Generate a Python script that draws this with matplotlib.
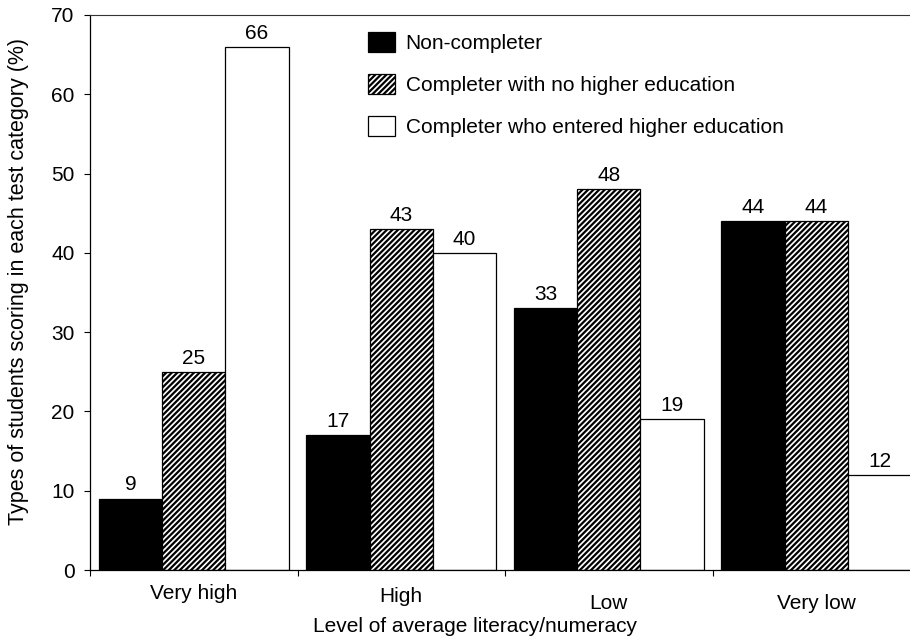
import numpy as np
import matplotlib.pyplot as plt
from matplotlib.transforms import ScaledTranslation

plt.rcParams['font.family'] = ['Liberation Sans', 'DejaVu Sans']
plt.rcParams['hatch.linewidth'] = 1.6

categories = ['Very high', 'High', 'Low', 'Very low']
series_names = ['Non-completer', 'Completer with no higher education',
                'Completer who entered higher education']
non_completer = [9, 17, 33, 44]
completer_no_he = [25, 43, 48, 44]
completer_he = [66, 40, 19, 12]

FS = 15

fig = plt.figure(figsize=(9.1, 6.39), dpi=100)
ax = fig.add_axes([90 / 910, 1 - 570 / 639, 830 / 910, 555 / 639])

x = np.arange(len(categories))
w = 0.305
styles = [dict(color='black', edgecolor='black'),
          dict(color='white', edgecolor='black', hatch='//////'),
          dict(color='white', edgecolor='black')]
all_vals = [non_completer, completer_no_he, completer_he]

for i, (vals, name, st) in enumerate(zip(all_vals, series_names, styles)):
    bars = ax.bar(x + (i - 1) * w, vals, w, label=name, linewidth=0.9, **st)
    for b, v in zip(bars, vals):
        ax.annotate(str(v), (b.get_x() + b.get_width() / 2, v),
                    xytext=(0, 3), textcoords='offset points',
                    ha='center', va='bottom', fontsize=FS)

ax.set_xlim(-0.5, len(categories) - 0.5)
ax.set_ylim(0, 70)
ax.set_yticks(range(0, 71, 10))
ax.tick_params(axis='y', direction='out', length=4, width=0.8, pad=7, labelsize=FS)

ax.set_xticks(x)
ax.set_xticklabels(categories, fontsize=FS)
ax.set_xticks(np.arange(len(categories) + 1) - 0.5, minor=True)
ax.tick_params(axis='x', which='major', length=0, pad=10)
ax.tick_params(axis='x', which='minor', direction='out', length=4, width=0.8)

# excel-style staggered category labels
for lbl, dy in zip(ax.get_xticklabels(), [0, -3, -10, -10]):
    lbl.set_transform(lbl.get_transform() + ScaledTranslation(0, dy / 100, fig.dpi_scale_trans))

ax.spines['right'].set_visible(False)
ax.spines['top'].set_color('#333333')
for s in ['left', 'bottom']:
    ax.spines[s].set_linewidth(0.9)

ax.set_xlabel('Level of average literacy/numeracy', fontsize=FS)
ax.xaxis.set_label_coords(0.464, -0.085)
ax.set_ylabel('Types of students scoring in each test category (%)', fontsize=15.5)
ax.yaxis.set_label_coords(-0.073, 0.52)

ax.legend(loc='upper left', bbox_to_anchor=(368 / 910, 1 - 32 / 639),
          bbox_transform=fig.transFigure, frameon=False, fontsize=FS,
          handlelength=1.3, handleheight=1.1, handletextpad=0.5,
          labelspacing=1.0, borderpad=0, borderaxespad=0)

fig.savefig('out.png', dpi=100)
